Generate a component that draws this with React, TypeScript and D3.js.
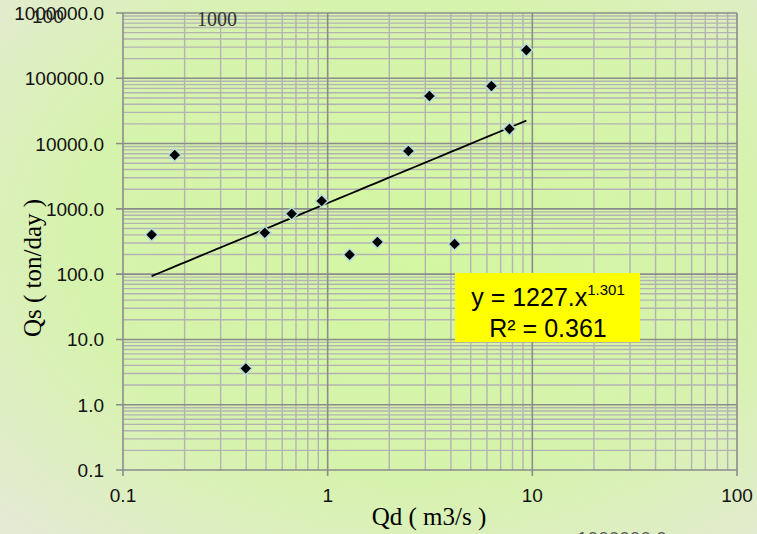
import * as d3 from "d3";

const qd = [0.138, 0.179, 0.398, 0.493, 0.667, 0.935, 1.28, 1.75, 2.48, 3.14, 4.17, 6.31, 7.73, 9.35];
const qs = [400, 6700, 3.6, 430, 840, 1320, 198, 310, 7700, 53500, 290, 76000, 16800, 270000];
const fitCoef = 1227;
const fitExp = 1.301;
const r2 = 0.361;
const xTicks = [0.1, 1, 10, 100];
const yTicks = [0.1, 1, 10, 100, 1000, 10000, 100000, 1000000];

const W = 757;
const H = 534;
const plot = { left: 123, right: 737, top: 13, bottom: 470 };

export default function App() {
  const x = d3.scaleLog().domain([0.1, 100]).range([plot.left, plot.right]);
  const y = d3.scaleLog().domain([0.1, 1000000]).range([plot.bottom, plot.top]);

  // minor grid values 2..9 in each decade
  const minorX: number[] = [];
  for (let d = 0.1; d < 100; d *= 10) for (let k = 2; k <= 9; k++) minorX.push(d * k);
  const minorY: number[] = [];
  for (let d = 0.1; d < 1000000; d *= 10) for (let k = 2; k <= 9; k++) minorY.push(d * k);

  const xMin = d3.min(qd)!;
  const xMax = d3.max(qd)!;
  const fitPts = d3.range(0, 41).map((i) => {
    const v = xMin * Math.pow(xMax / xMin, i / 40);
    return [v, fitCoef * Math.pow(v, fitExp)] as [number, number];
  });
  const fitLine = d3
    .line<[number, number]>()
    .x((d) => x(d[0]))
    .y((d) => y(d[1]));

  const labelFont = "'Liberation Sans', Arial, sans-serif";
  const serif = "'Liberation Serif', 'Times New Roman', serif";

  return (
    <div style={{ position: "absolute", left: 0, top: 0 }}>
      <svg width={W} height={H} style={{ display: "block" }}>
        <defs>
          <radialGradient id="bg" cx="55%" cy="45%" r="75%">
            <stop offset="0%" stopColor="#d3f7a2" />
            <stop offset="60%" stopColor="#d6f3ad" />
            <stop offset="100%" stopColor="#e4ead3" />
          </radialGradient>
        </defs>
        <rect width={W} height={H} fill="url(#bg)" />

        {/* minor grid */}
        {minorX.map((v, i) => (
          <line key={"mx" + i} x1={x(v)} x2={x(v)} y1={plot.top} y2={plot.bottom} stroke="#b3b3b3" strokeWidth={1.4} />
        ))}
        {minorY.map((v, i) => (
          <line key={"my" + i} x1={plot.left} x2={plot.right} y1={y(v)} y2={y(v)} stroke="#b3b3b3" strokeWidth={1.4} />
        ))}
        {/* major grid */}
        {xTicks.map((v, i) => (
          <line key={"Mx" + i} x1={x(v)} x2={x(v)} y1={plot.top} y2={plot.bottom + 6} stroke="#8c8c8c" strokeWidth={1.6} />
        ))}
        {yTicks.map((v, i) => (
          <line key={"My" + i} x1={plot.left - 7} x2={plot.right} y1={y(v)} y2={y(v)} stroke="#8c8c8c" strokeWidth={1.6} />
        ))}

        {/* tick labels */}
        {yTicks.map((v, i) => (
          <text key={"yl" + i} x={104} y={y(v) + 7} textAnchor="end" fontFamily={labelFont} fontSize={19} fill="#111">
            {v.toFixed(1)}
          </text>
        ))}
        {xTicks.map((v, i) => (
          <text key={"xl" + i} x={x(v)} y={502} textAnchor="middle" fontFamily={labelFont} fontSize={19} fill="#111">
            {String(v)}
          </text>
        ))}

        {/* stray overlapping labels */}
        <text x={32} y={23} fontFamily={labelFont} fontSize={19} fill="#222">100</text>
        <text x={197} y={26} fontFamily={serif} fontSize={20} fill="#333">1000</text>
        <text x={577} y={545} fontFamily={labelFont} fontSize={19} fill="#555">1000000.0</text>

        {/* trend line */}
        <path d={fitLine(fitPts)!} fill="none" stroke="#000" strokeWidth={1.8} />

        {/* markers */}
        {qd.map((v, i) => {
          const cx = x(v);
          const cy = y(qs[i]);
          const s = 6.3;
          return (
            <path
              key={"p" + i}
              d={`M${cx},${cy - s}L${cx + s},${cy}L${cx},${cy + s}L${cx - s},${cy}Z`}
              fill="#000"
              stroke="#b7dcdc"
              strokeWidth={1.5}
            />
          );
        })}

        {/* equation box */}
        <rect x={455} y={273} width={185} height={69} fill="#ffff00" />
        <text x={548} y={306} textAnchor="middle" fontFamily={labelFont} fontSize={25} fill="#000">
          y = {fitCoef}.x
          <tspan fontSize={15} dy={-11}>{fitExp}</tspan>
        </text>
        <text x={548} y={337} textAnchor="middle" fontFamily={labelFont} fontSize={25} fill="#000">
          R² = {r2}
        </text>

        {/* axis titles */}
        <text x={429} y={525} textAnchor="middle" fontFamily={serif} fontSize={25} fill="#000">
          Qd ( m3/s )
        </text>
        <text
          transform={`translate(41,${268}) rotate(-90)`}
          textAnchor="middle"
          fontFamily={serif}
          fontSize={25}
          fill="#000"
        >
          Qs ( ton/day )
        </text>
      </svg>
    </div>
  );
}
